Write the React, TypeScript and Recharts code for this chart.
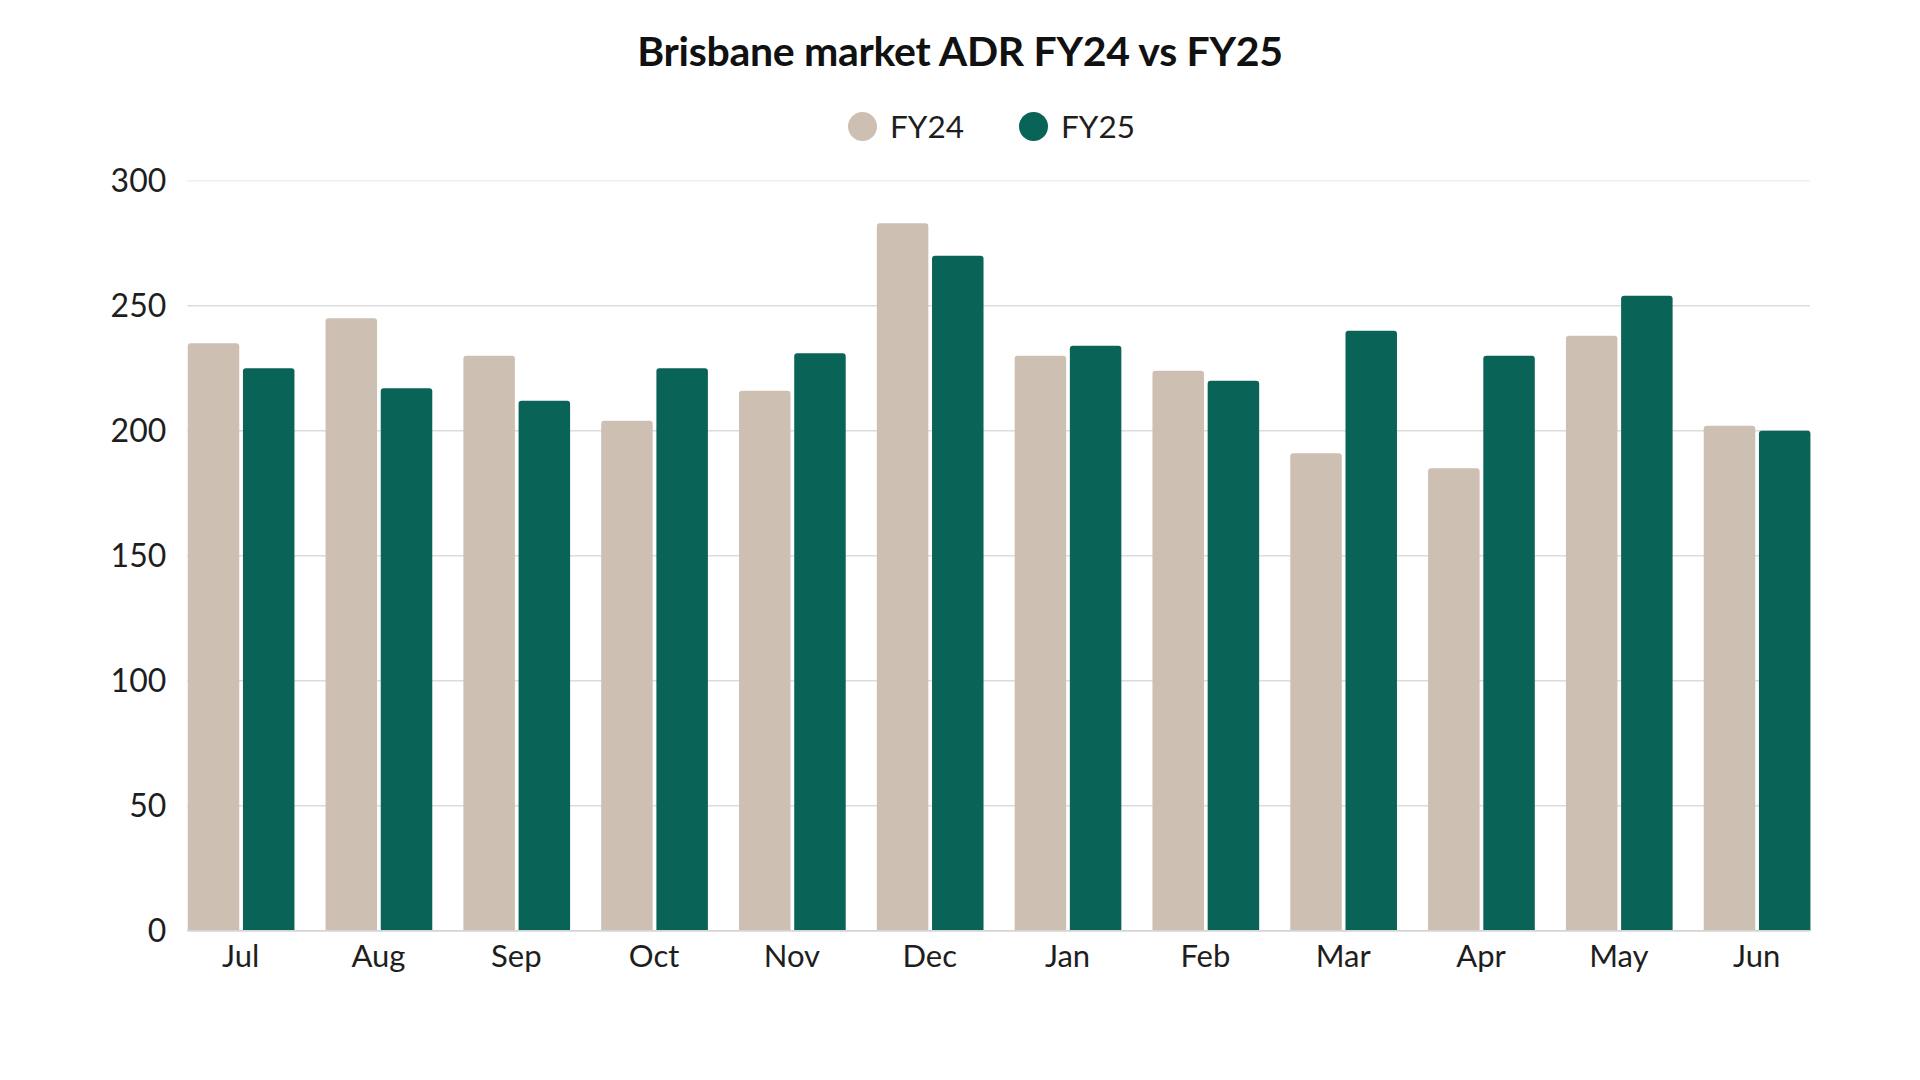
import React from "react";
import {
  Bar,
  BarChart,
  CartesianGrid,
  Legend,
  XAxis,
  YAxis,
} from "recharts";

const months = ["Jul", "Aug", "Sep", "Oct", "Nov", "Dec", "Jan", "Feb", "Mar", "Apr", "May", "Jun"];
const fy24 = [235, 245, 230, 204, 216, 283, 230, 224, 191, 185, 238, 202];
const fy25 = [225, 217, 212, 225, 231, 270, 234, 220, 240, 230, 254, 200];
const yTicks = [0, 50, 100, 150, 200, 250, 300];

const data = months.map((m, i) => ({ month: m, FY24: fy24[i], FY25: fy25[i] }));

const FONT = "Lato, 'Noto Sans', sans-serif";
const TAN = "#cdbfb2";
const GREEN = "#0a6357";

function renderLegend(props: { payload?: { value: string; color?: string }[] }) {
  const items = props.payload ?? [];
  return (
    <div style={{ display: "flex", alignItems: "center", fontFamily: FONT }}>
      {items.map((it, i) => (
        <div
          key={it.value}
          style={{ display: "flex", alignItems: "center", marginLeft: i === 0 ? 0 : 55 }}
        >
          <span
            style={{
              width: 29,
              height: 29,
              borderRadius: "50%",
              background: it.color,
              display: "inline-block",
              marginRight: 13,
            }}
          />
          <span style={{ fontSize: 31.5, color: "#1e1e1e" }}>{it.value}</span>
        </div>
      ))}
    </div>
  );
}

function gridLine(props: { x1: number; x2: number; y1: number; y2: number }) {
  const { x1, x2, y1, y2 } = props;
  return (
    <line
      key={`h-${y1}`}
      x1={x1}
      x2={x2}
      y1={y1}
      y2={y2}
      stroke={y1 < 190 ? "#f0f0f0" : "#dcdcdc"}
      strokeWidth={1.5}
    />
  );
}

export default function App() {
  return (
    <div
      style={{
        position: "absolute",
        left: 0,
        top: 0,
        width: 1920,
        height: 1080,
        background: "#fff",
      }}
    >
      <div
        style={{
          position: "absolute",
          top: 26,
          left: 0,
          width: 1920,
          textAlign: "center",
          fontFamily: FONT,
          fontWeight: 700,
          fontSize: 41,
          color: "#111",
          letterSpacing: -0.3,
        }}
      >
        Brisbane market ADR FY24 vs FY25
      </div>
      <BarChart
        width={1920}
        height={1080}
        data={data}
        margin={{ top: 180.7, right: 110, bottom: 89.3, left: 107.3 }}
        barSize={51.5}
        barGap={3.7}
      >
        <CartesianGrid vertical={false} horizontal={gridLine as never} />
        <XAxis
          dataKey="month"
          height={60}
          padding={{ left: -15.55, right: -15.55 }}
          tickLine={false}
          tickSize={0}
          tickMargin={14}
          axisLine={{ stroke: "#d4d4d4", strokeWidth: 1.5 }}
          tick={{ fontFamily: FONT, fontSize: 31, fill: "#1e1e1e" }}
          interval={0}
        />
        <YAxis
          width={80}
          domain={[0, 300]}
          ticks={yTicks}
          tickLine={false}
          tickSize={0}
          tickMargin={21}
          axisLine={false}
          tick={{ fontFamily: FONT, fontSize: 32, fill: "#1e1e1e" }}
        />
        <Legend
          content={renderLegend as never}
          wrapperStyle={{
            position: "absolute",
            top: 107,
            left: 848,
            width: "auto",
            height: 0,
            overflow: "visible",
          }}
        />
        <Bar dataKey="FY24" fill={TAN} radius={[3, 3, 0, 0]} isAnimationActive={false} />
        <Bar dataKey="FY25" fill={GREEN} radius={[3, 3, 0, 0]} isAnimationActive={false} />
      </BarChart>
    </div>
  );
}
